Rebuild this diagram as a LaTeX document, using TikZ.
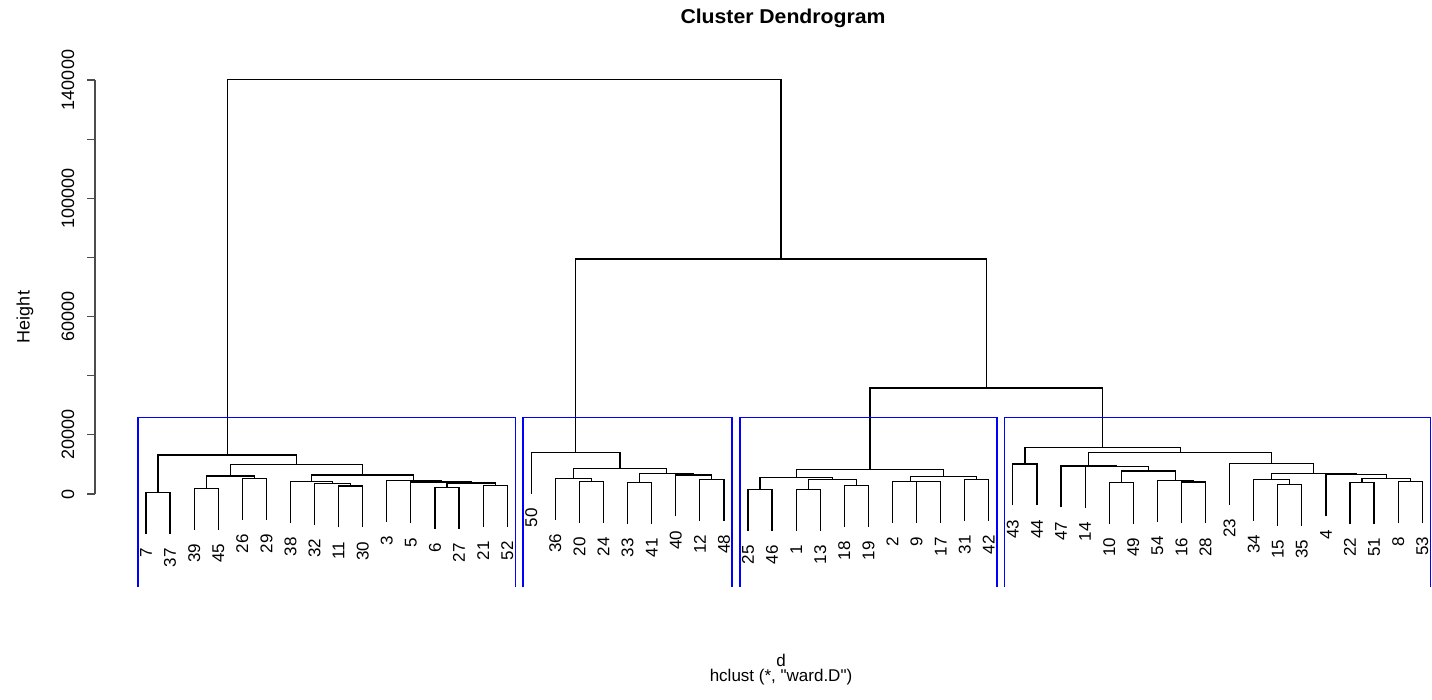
\documentclass[tikz,border=0pt]{standalone}
\usepackage{fontspec}
\setmainfont{Liberation Sans}
\newfontfamily\plainfont{Liberation Sans}
\usetikzlibrary{calc}
\tikzset{
  dend/.style={line width=1.2pt, black},
  clus/.style={line width=1.4pt, blue},
  axisline/.style={line width=1.2pt, black!70},
  leaflab/.style={rotate=90, anchor=east, inner xsep=14pt, inner ysep=0pt, font=\fontsize{17}{17}\selectfont},
  ticklab/.style={rotate=90, inner sep=0pt, font=\fontsize{18}{18}\selectfont},
}
\newcommand\leaf[3]{\coordinate (t#1) at ({146+24.08*#2},{#3+41.4}); \node[leaflab] (n#1) at (t#1) {#1};}
\newcommand\mrg[4]{\coordinate (#1m) at ($(#2)!0.5!(#3)$); \coordinate (#1) at (#1m |- 0,#4); \draw[dend] (#2) |- (#1) -| (#3);}
\begin{document}
\begin{tikzpicture}[x=1pt,y=-1pt]
\useasboundingbox (0,0) rectangle (1432,700);
% title and labels
\node[font=\bfseries\fontsize{20}{20}\selectfont, xscale=1.06, inner sep=0pt] (title) at (783,18) {Cluster Dendrogram};
\node[font=\fontsize{17}{17}\selectfont, inner sep=0pt] (dlab) at (781,660) {d};
\node[font=\plainfont\fontsize{17}{17}\selectfont, inner sep=0pt] (sub) at (781,677) {hclust (*, "ward.D")};
\node[ticklab] (ylab) at (25,317) {Height};
% axis
\draw[axisline] (95,494) -- (95,80);
\foreach \k in {0,...,7} { \draw[axisline] (95,{494-59.143*\k}) -- (87,{494-59.143*\k}); }
\node[ticklab] (y0) at (68,494) {0};
\node[ticklab] (y20) at (68,434.86) {20000};
\node[ticklab] (y60) at (68,316.57) {60000};
\node[ticklab] (y100) at (68,198.29) {100000};
\node[ticklab] (y140) at (68,80) {140000};
% cluster 1
\leaf{7}{0}{492.7} \leaf{37}{1}{492.7}
\leaf{39}{2}{488.3} \leaf{45}{3}{488.3}
\leaf{26}{4}{478.7} \leaf{29}{5}{478.7}
\leaf{38}{6}{481.7}
\leaf{32}{7}{483.2}
\leaf{11}{8}{486} \leaf{30}{9}{486}
\leaf{3}{10}{480.2}
\leaf{5}{11}{482}
\leaf{6}{12}{487.7} \leaf{27}{13}{487.7}
\leaf{21}{14}{485.5} \leaf{52}{15}{485.5}
\mrg{a1}{t7}{t37}{492.7}
\mrg{a2}{t39}{t45}{488.3}
\mrg{a3}{t26}{t29}{478.7}
\mrg{a4}{a2}{a3}{476}
\mrg{a5}{t11}{t30}{486}
\mrg{a6}{t32}{a5}{483.2}
\mrg{a7}{t38}{a6}{481.7}
\mrg{a8}{t6}{t27}{487.7}
\mrg{a9}{t21}{t52}{485.5}
\mrg{a10}{a8}{a9}{483}
\mrg{a11}{t5}{a10}{482}
\mrg{a12}{t3}{a11}{480.2}
\mrg{a13}{a7}{a12}{475}
\mrg{a14}{a4}{a13}{464.3}
\mrg{a15}{a1}{a14}{455}
% cluster 2
\leaf{50}{16}{452.7}
\leaf{36}{17}{478.3}
\leaf{20}{18}{481.7} \leaf{24}{19}{481.7}
\leaf{33}{20}{482.5} \leaf{41}{21}{482.5}
\leaf{40}{22}{475}
\leaf{12}{23}{479.3} \leaf{48}{24}{479.3}
\mrg{b1}{t20}{t24}{481.7}
\mrg{b2}{t36}{b1}{478.3}
\mrg{b3}{t33}{t41}{482.5}
\mrg{b6}{t12}{t48}{479.3}
\mrg{b4}{t40}{b6}{475}
\mrg{b5}{b3}{b4}{473.3}
\mrg{b7}{b2}{b5}{468.3}
\mrg{b8}{t50}{b7}{452.7}
% cluster 3
\leaf{25}{25}{489.8} \leaf{46}{26}{489.8}
\leaf{1}{27}{489.8} \leaf{13}{28}{489.8}
\leaf{18}{29}{485.5} \leaf{19}{30}{485.5}
\leaf{2}{31}{481.2}
\leaf{9}{32}{481.7} \leaf{17}{33}{481.7}
\leaf{31}{34}{479.8} \leaf{42}{35}{479.8}
\mrg{c1}{t25}{t46}{489.8}
\mrg{c2}{t1}{t13}{489.8}
\mrg{c3}{t18}{t19}{485.5}
\mrg{c4}{c2}{c3}{479.7}
\mrg{c5}{c1}{c4}{477.3}
\mrg{c6}{t9}{t17}{481.7}
\mrg{c7}{t2}{c6}{481.2}
\mrg{c8}{t31}{t42}{479.8}
\mrg{c9}{c7}{c8}{476.7}
\mrg{c10}{c5}{c9}{469.3}
% cluster 4
\leaf{43}{36}{464} \leaf{44}{37}{464}
\leaf{47}{38}{466}
\leaf{14}{39}{466.8}
\leaf{10}{40}{482.3} \leaf{49}{41}{482.3}
\leaf{54}{42}{480.5}
\leaf{16}{43}{482} \leaf{28}{44}{482}
\leaf{23}{45}{463.3}
\leaf{34}{46}{479.3}
\leaf{15}{47}{484.3} \leaf{35}{48}{484.3}
\leaf{4}{49}{474.7}
\leaf{22}{50}{482.3} \leaf{51}{51}{482.3}
\leaf{8}{52}{481.3} \leaf{53}{53}{481.3}
\mrg{d1}{t43}{t44}{464}
\mrg{d2}{t10}{t49}{482.3}
\mrg{d3}{t16}{t28}{482}
\mrg{d4}{t54}{d3}{480.5}
\mrg{d5}{d2}{d4}{471}
\mrg{d6}{t14}{d5}{466.8}
\mrg{d7}{t47}{d6}{466}
\mrg{d8}{t15}{t35}{484.3}
\mrg{d9}{t34}{d8}{479.3}
\mrg{d10}{t22}{t51}{482.3}
\mrg{d11}{t8}{t53}{481.3}
\mrg{d12}{d10}{d11}{478.3}
\mrg{d13}{t4}{d12}{474.7}
\mrg{d14}{d9}{d13}{473.3}
\mrg{d15}{t23}{d14}{463.3}
\mrg{d16}{d7}{d15}{452.3}
\mrg{d17}{d1}{d16}{447.3}
% upper merges
\mrg{e1}{c10}{d17}{388}
\mrg{e2}{b8}{e1}{259}
\mrg{e3}{a15}{e2}{79.5}
% cluster rectangles
\draw[clus] (137.8,587) -- (137.8,417.7) -- (515.2,417.7) -- (515.2,587);
\draw[clus] (523.0,587) -- (523.0,417.7) -- (731.9,417.7) -- (731.9,587);
\draw[clus] (739.8,587) -- (739.8,417.7) -- (996.8,417.7) -- (996.8,587);
\draw[clus] (1004.7,587) -- (1004.7,417.7) -- (1430.2,417.7) -- (1430.2,587);
\end{tikzpicture}
\end{document}
